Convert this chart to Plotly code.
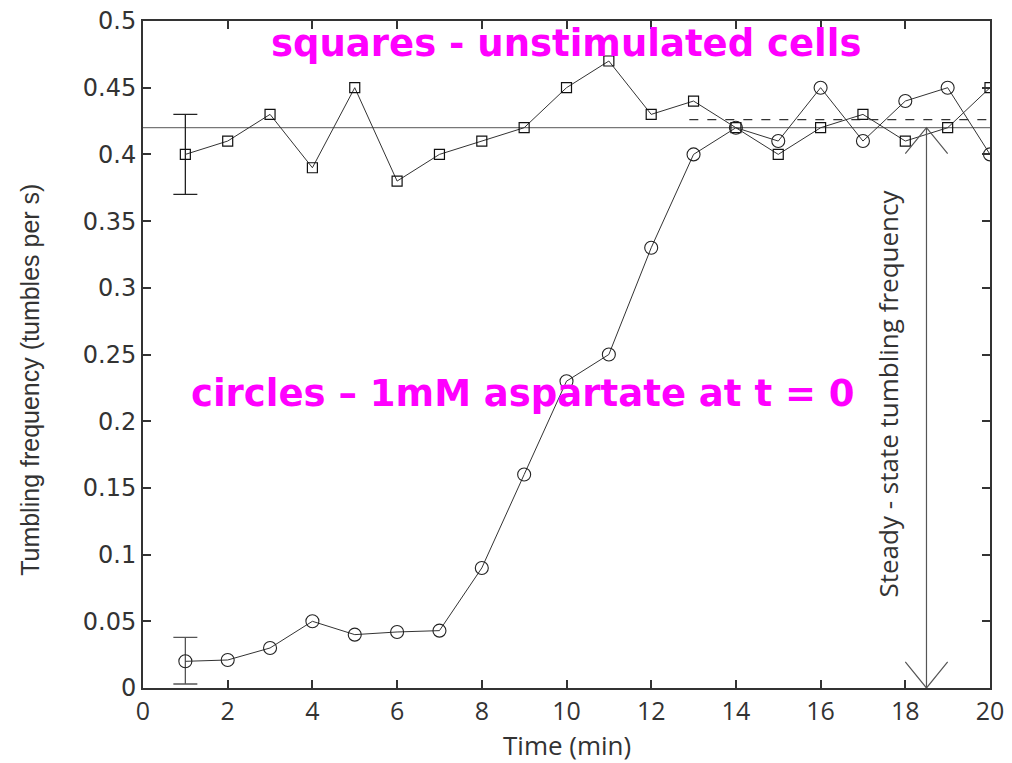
import plotly.graph_objects as go

time_min = list(range(1, 21))
squares = [0.40, 0.41, 0.43, 0.39, 0.45, 0.38, 0.40, 0.41, 0.42, 0.45,
           0.47, 0.43, 0.44, 0.42, 0.40, 0.42, 0.43, 0.41, 0.42, 0.45]
circles = [0.020, 0.021, 0.030, 0.050, 0.040, 0.042, 0.043, 0.090, 0.160, 0.230,
           0.250, 0.330, 0.400, 0.420, 0.410, 0.450, 0.410, 0.440, 0.450, 0.400]
err_x = [1]
sq_err_y = [0.40]
sq_err_plus = [0.03]
sq_err_minus = [0.03]
ci_err_y = [0.020]
ci_err_plus = [0.018]
ci_err_minus = [0.017]
unstim_level = 0.42
steady_level = 0.426
steady_x = 18.5
dash_start = 12.9
x_ticks = list(range(0, 21, 2))
y_ticks = [0, 0.05, 0.1, 0.15, 0.2, 0.25, 0.3, 0.35, 0.4, 0.45, 0.5]
y_ticktext = ["0", "0.05", "0.1", "0.15", "0.2", "0.25", "0.3", "0.35", "0.4", "0.45", "0.5"]

line_col = "#333333"
fig = go.Figure()

# reference horizontal lines
fig.add_trace(go.Scatter(x=[0, 20], y=[unstim_level, unstim_level], mode="lines",
                         line=dict(color="#777777", width=1.3), showlegend=False, hoverinfo="skip"))
fig.add_trace(go.Scatter(x=[dash_start, 20], y=[steady_level, steady_level], mode="lines",
                         line=dict(color="#333333", width=1.2, dash="dash"), showlegend=False, hoverinfo="skip"))

# error bars (first point only)
fig.add_trace(go.Scatter(
    x=err_x, y=sq_err_y, mode="markers", marker=dict(size=1, opacity=0),
    error_y=dict(type="data", symmetric=False, array=sq_err_plus, arrayminus=sq_err_minus,
                 color="#222222", thickness=1.3, width=12),
    showlegend=False, hoverinfo="skip"))
fig.add_trace(go.Scatter(
    x=err_x, y=ci_err_y, mode="markers", marker=dict(size=1, opacity=0),
    error_y=dict(type="data", symmetric=False, array=ci_err_plus, arrayminus=ci_err_minus,
                 color="#555555", thickness=1.3, width=12),
    showlegend=False, hoverinfo="skip"))

fig.add_trace(go.Scatter(
    x=time_min, y=squares, mode="lines+markers",
    line=dict(color=line_col, width=1),
    marker=dict(symbol="square-open", size=10, color="#111111", line=dict(width=1.2)),
    showlegend=False))

fig.add_trace(go.Scatter(
    x=time_min, y=circles, mode="lines+markers",
    line=dict(color=line_col, width=1),
    marker=dict(symbol="circle-open", size=13, color="#222222", line=dict(width=1.1)),
    showlegend=False))

# double-headed arrow
fig.add_trace(go.Scatter(x=[steady_x, steady_x], y=[0, unstim_level], mode="lines",
                         line=dict(color="#555555", width=1.2), showlegend=False, hoverinfo="skip"))
for tip, sgn in [(unstim_level, -1), (0.0, 1)]:
    fig.add_trace(go.Scatter(x=[steady_x - 0.5, steady_x, steady_x + 0.5],
                             y=[tip + sgn * 0.0195, tip, tip + sgn * 0.0195], mode="lines",
                             line=dict(color="#555555", width=1.2), showlegend=False, hoverinfo="skip"))

fig.add_annotation(x=17.6, y=0.221, xref="x", yref="y", text="Steady - state tumbling frequency",
                   textangle=-90, showarrow=False, xanchor="center", yanchor="middle",
                   font=dict(family="Open Sans, sans-serif", size=26, color="#333333"))
fig.add_annotation(x=9.98, y=0.4828, xref="x", yref="y", text="squares - unstimulated cells",
                   showarrow=False, xanchor="center", yanchor="middle",
                   font=dict(family="DejaVu Sans", size=37, color="#FF00FF", weight="bold"))
fig.add_annotation(x=8.98, y=0.221, xref="x", yref="y", text="circles – 1mM aspartate at t = 0",
                   showarrow=False, xanchor="center", yanchor="middle",
                   font=dict(family="DejaVu Sans", size=37, color="#FF00FF", weight="bold"))
# axis titles
fig.add_annotation(x=-0.1334, y=0.462, xref="paper", yref="paper", text="Tumbling frequency (tumbles per s)",
                   textangle=-90, showarrow=False, xanchor="center", yanchor="middle",
                   font=dict(family="Liberation Sans, Arial, sans-serif", size=25, color="#333333"))
fig.add_annotation(x=0.5, y=-0.0855, xref="paper", yref="paper", text="Time (min)",
                   showarrow=False, xanchor="center", yanchor="middle",
                   font=dict(family="Open Sans, sans-serif", size=26, color="#333333"))

axis_common = dict(showline=True, linecolor="#333333", linewidth=2, mirror="ticks",
                   ticks="inside", ticklen=8, tickcolor="#333333", tickwidth=1.5,
                   showgrid=False, zeroline=False, automargin=False)
fig.update_xaxes(range=[0, 20], tickvals=x_ticks, **axis_common,
                 tickfont=dict(family="Open Sans, sans-serif", size=25, color="#333333"))
fig.update_yaxes(range=[0, 0.5], tickvals=y_ticks, ticktext=y_ticktext, **axis_common,
                 tickfont=dict(family="DejaVu Sans", size=24, color="#333333"))
fig.update_layout(width=1012, height=763, paper_bgcolor="white", plot_bgcolor="white",
                  margin=dict(l=143, r=22, t=21, b=75, autoexpand=False))
fig.write_html("out.html")
